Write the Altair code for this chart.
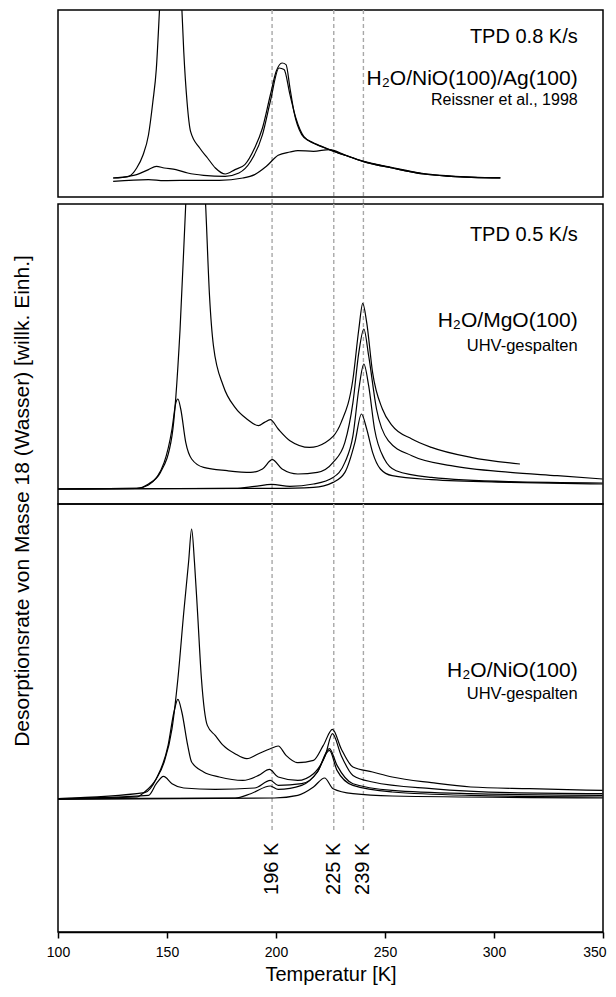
import altair as alt
import pandas as pd

FONT = "Liberation Sans"

# ---------------- data (temperature in K, signal in arbitrary units) ----------------
# Top panel: H2O/NiO(100)/Ag(100), TPD 0.8 K/s
top1_T = [125.3, 132.5, 136.1, 139.0, 141.5, 143.5, 145.1, 146.6, 149.0, 152.0, 155.0, 156.8, 157.7, 159.2, 160.8,
          165.0, 168.6, 172.2, 176.7, 181.2, 185.7, 190.2, 193.8, 197.4, 200.1, 202.8, 204.6, 206.4, 208.2, 211.8,
          215.4, 219.0, 224.5, 231.7, 239.8, 253.3, 267.7, 280.3, 302.9]
top1_v = [19, 20.7, 29, 42, 62, 95, 128, 189, 300, 380, 300, 189, 145, 95, 65.7,
          49, 39, 29, 23, 27.4, 32.4, 49, 69, 102, 125.7, 134, 132.4, 109, 85.7, 62.4,
          55.7, 52.4, 47.4, 41.7, 35.7, 29, 23, 20.7, 19]
top2_T = [125.3, 132.5, 136.1, 141.5, 145.1, 148.7, 154.1, 159.5, 166.8, 176.7, 183.0, 188.4, 193.8, 197.4,
          201.4, 203.7, 206.4, 209.1, 212.7, 217.2, 224.5, 231.7, 239.8, 253.3, 267.7, 280.3, 302.9]
top2_v = [19, 20.7, 22.4, 27.4, 30.7, 29, 27.4, 24, 21.7, 20.7, 24, 35.7, 62.4, 95.7,
          129, 127.4, 102.4, 79, 60.7, 54, 47.4, 41.7, 35.7, 29, 23, 20.7, 19]
top3_T = [125.3, 141.5, 148.7, 163.2, 174.0, 184.8, 190.2, 195.6, 201.0, 206.4, 210.0, 217.2, 224.5, 231.7,
          239.8, 253.3, 267.7, 280.3, 302.9]
top3_v = [15.7, 17.4, 16.4, 16.7, 16.7, 19, 22.4, 30.7, 41.7, 45, 46.4, 45.7, 47.4, 42,
          36, 29.5, 23.5, 21, 19.3]

# Middle panel: H2O/MgO(100), TPD 0.5 K/s
mid1_T = [100, 136.1, 141.5, 147.0, 152.3, 156.0, 158.6, 161.5, 164.5, 167.7, 169.5, 171.3, 175.8, 181.2, 186.6,
          192.0, 194.7, 197.4, 201.0, 206.4, 215.4, 222.7, 229.9, 235.3, 238.0, 239.8, 241.6, 244.3, 248.8, 253.3,
          262.3, 271.3, 289.4, 311.9]
mid1_v = [15, 15.6, 20, 31.6, 68.3, 175, 300, 420, 420, 300, 208.3, 158.3, 118.3, 96.6, 85,
          78.3, 81.6, 84.3, 75, 63.3, 56.6, 61.6, 81.6, 125, 175, 200.6, 181.6, 131.6, 95, 78.3,
          65, 56.6, 46.6, 40]
mid2_T = [100, 136.1, 141.5, 148.7, 152.3, 154.1, 155.0, 156.3, 158.6, 161.3, 166.8, 177.6, 188.4, 193.8, 198.3,
          202.8, 210.0, 219.0, 226.2, 231.6, 235.3, 238.0, 240.3, 242.5, 246.1, 251.5, 262.3, 280.3, 307.4, 329.0,
          349.8]
mid2_v = [15, 15.6, 19, 41.6, 75, 101.6, 105, 95, 61.6, 45, 36.6, 33.3, 31.6, 35, 44.3,
          35, 30, 31.6, 41.6, 61.6, 101.6, 151.6, 175, 148.3, 95, 63.3, 48.3, 38.3, 31.6, 28.3,
          25]
mid3_T = [100, 181.2, 190.2, 198.0, 206.4, 217.2, 226.2, 231.6, 235.3, 238.0, 240.3, 242.5, 245.2, 249.7, 255.1,
          271.3, 307.4, 349.8]
mid3_v = [15, 15.6, 17.6, 19.6, 17.6, 20, 26.6, 41.6, 68.3, 115, 140, 118.3, 75, 45, 33.3,
          26.6, 22.3, 21]
mid4_T = [100, 199.2, 217.2, 226.2, 231.6, 236.2, 239.2, 241.6, 244.3, 247.9, 253.3, 271.3, 307.4, 349.8]
mid4_v = [15, 15.6, 16.6, 21.6, 31.6, 61.6, 90, 75, 51.6, 35, 28.3, 24.3, 21.6, 20]

# Bottom panel: H2O/NiO(100)
bot1_T = [100, 136.1, 139.7, 145.1, 148.7, 152.3, 155.0, 157.7, 159.9, 161.3, 162.6, 164.0, 165.8, 168.5, 172.1,
          175.8, 181.2, 186.6, 192.0, 197.4, 201.0, 204.6, 210.0, 217.2, 221.7, 225.9, 229.9, 235.3, 244.3, 253.3,
          271.3, 289.4, 316.4, 349.8]
bot1_v = [133.3, 135, 140, 153.3, 170, 203.3, 253.3, 320, 370, 403, 370, 320, 253.3, 206.6, 196.6,
          186.6, 178.3, 173.3, 178.3, 183.3, 186, 176.6, 169.3, 171.6, 186.6, 202.6, 183.3, 165, 160, 155,
          149.3, 145, 143.3, 141.6]
bot2_T = [100, 139.7, 145.1, 150.5, 153.2, 155.0, 156.8, 159.5, 161.3, 166.8, 174.0, 184.8, 192.0, 197.0, 201.0,
          210.0, 217.2, 222.6, 225.9, 229.9, 235.3, 244.3, 271.3, 307.4, 349.8]
bot2_v = [133.3, 139.3, 153.3, 186.6, 220, 232.6, 220, 186.6, 170, 160, 155, 151.6, 156.6, 162.6, 155,
          151.6, 158.3, 176.6, 198.3, 176.6, 156.6, 150, 143.3, 139.3, 138.3]
bot3_T = [100, 141.5, 145.1, 148.4, 152.3, 157.7, 172.1, 190.2, 197.4, 201.0, 211.8, 219.0, 224.5, 228.0, 235.3,
          253.3, 289.4, 349.8]
bot3_v = [133.3, 136.6, 148.3, 155.6, 148.3, 144, 142.6, 144, 151.6, 146.6, 148.3, 160, 183.3, 166.6, 148.3,
          141.6, 138.3, 136.6]
bot4_T = [100, 181.2, 188.4, 197.4, 201.0, 211.8, 219.0, 224.5, 228.0, 235.3, 253.3, 289.4, 349.8]
bot4_v = [133.3, 134, 138.3, 146, 142.6, 146.6, 160, 181.6, 161.6, 146.6, 140, 136.6, 135]
bot5_T = [100, 199.2, 210.0, 217.2, 222.3, 226.2, 235.3, 253.3, 349.8]
bot5_v = [132.6, 134, 136.6, 145, 154, 143.3, 138.3, 136, 134]

# reference temperatures (dashed lines) and their labels
ref_T = [198.2, 226.5, 240.1]
ref_labels = ["196 K", "225 K", "239 K"]
x_ticks = [100, 150, 200, 250, 300, 350]

# annotation texts: (T position, signal position, text, font size)
top_texts = [(338.4, 160, "TPD 0.8 K/s", 20), (338.4, 118, "H\u2082O/NiO(100)/Ag(100)", 21),
             (338.4, 97, "Reissner et al., 1998", 16)]
mid_texts = [(338.4, 269, "TPD 0.5 K/s", 20), (338.4, 182.6, "H\u2082O/MgO(100)", 21),
             (338.4, 158.3, "UHV-gespalten", 16.5)]
bot_texts = [(338.4, 261.3, "H\u2082O/NiO(100)", 21), (338.4, 238.3, "UHV-gespalten", 16.5)]

y_title = "Desorptionsrate von Masse 18 (Wasser) [willk. Einh.]"
x_title = "Temperatur [K]"

W = 545
GAP = 7
xs = alt.Scale(domain=[100, 350], nice=False, zero=False)


def curves_df(curves):
    rows = []
    for name, T, v in curves:
        for t, val in zip(T, v):
            rows.append({"curve": name, "T": t, "v": val})
    return pd.DataFrame(rows)


def texts_df(texts):
    return pd.DataFrame([{"T": t, "v": v, "txt": s, "fs": f} for t, v, s, f in texts])


def panel(curves, texts, height, ymax, bottom=False, top_panel=False):
    if bottom:
        xaxis = alt.Axis(values=x_ticks, format="d", tickSize=6, tickWidth=1.5, tickColor="black",
                         domainColor="black", domainWidth=1.5, labelFont=FONT, labelFontSize=14,
                         labelColor="black", labelPadding=7, labelFlush=False, grid=False,
                         labelAlign={"condition": {"test": "datum.value == 350", "value": "right"},
                                     "value": "center"},
                         labelOffset={"condition": {"test": "datum.value == 350", "value": 3},
                                      "value": 0},
                         title=x_title, titleFont=FONT, titleFontSize=20, titleFontWeight="normal",
                         titleColor="black", titlePadding=5)
    else:
        xaxis = None
    ys = alt.Scale(domain=[0, ymax], nice=False, zero=False)
    X = alt.X("T:Q", scale=xs, axis=xaxis)

    rules_df = pd.DataFrame({"T": ref_T, "lab": ref_labels})
    rule_mark = dict(color="#a8a8a8", strokeDash=[4, 3], strokeWidth=1.4)
    if bottom:
        rules = alt.Chart(rules_df).mark_rule(**rule_mark).encode(
            x=X, y=alt.Y("top:Q", scale=ys, axis=None), y2="low:Q"
        ).transform_calculate(top=str(ymax), low="101")
    elif top_panel:
        # in the top panel the dashed lines run on through the gap to the next panel
        rules = alt.Chart(rules_df).mark_rule(**rule_mark).encode(
            x=X, y=alt.value(0), y2=alt.value(height + GAP)
        )
    else:
        rules = alt.Chart(rules_df).mark_rule(**rule_mark).encode(x=X)

    lines = alt.Chart(curves_df(curves)).mark_line(
        color="black", strokeWidth=1.2, clip=True, interpolate="monotone"
    ).encode(x=X, y=alt.Y("v:Q", scale=ys, axis=None), detail="curve:N")

    txt = alt.Chart(texts_df(texts)).mark_text(
        align="right", baseline="middle", font=FONT, color="black"
    ).encode(x=X, y=alt.Y("v:Q", scale=ys, axis=None), text="txt:N", size=alt.Size("fs:Q", scale=None))

    layers = [rules, lines, txt]
    if bottom:
        labs = alt.Chart(rules_df).mark_text(
            angle=270, align="right", baseline="middle", font=FONT, fontSize=20, color="black"
        ).encode(x=X, y=alt.Y("pos:Q", scale=ys, axis=None), text="lab:N").transform_calculate(pos="89.3")
        ytit = alt.Chart(pd.DataFrame({"t": [y_title]})).mark_text(
            angle=270, align="center", baseline="alphabetic", font=FONT, fontSize=21, color="black"
        ).encode(text="t:N", x=alt.value(-29.5), y=alt.value(-3))
        layers += [labs, ytit]
    return alt.layer(*layers).properties(width=W, height=height)


top = panel([("a", top1_T, top1_v), ("b", top2_T, top2_v), ("c", top3_T, top3_v)], top_texts, 187, 187,
            top_panel=True)
mid = panel([("a", mid1_T, mid1_v), ("b", mid2_T, mid2_v), ("c", mid3_T, mid3_v), ("d", mid4_T, mid4_v)],
            mid_texts, 300, 300)
bot = panel([("a", bot1_T, bot1_v), ("b", bot2_T, bot2_v), ("c", bot3_T, bot3_v), ("d", bot4_T, bot4_v),
             ("e", bot5_T, bot5_v)], bot_texts, 428, 428, bottom=True)

lower = alt.vconcat(mid, bot, spacing=0, bounds="flush")
chart = alt.vconcat(top, lower, spacing=GAP, bounds="flush").properties(
    padding={"left": 2, "top": 0, "right": 0, "bottom": 0}
).configure_view(stroke="black", strokeWidth=1.5)

chart.save("out.html", embed_options={"renderer": "svg", "actions": False})
